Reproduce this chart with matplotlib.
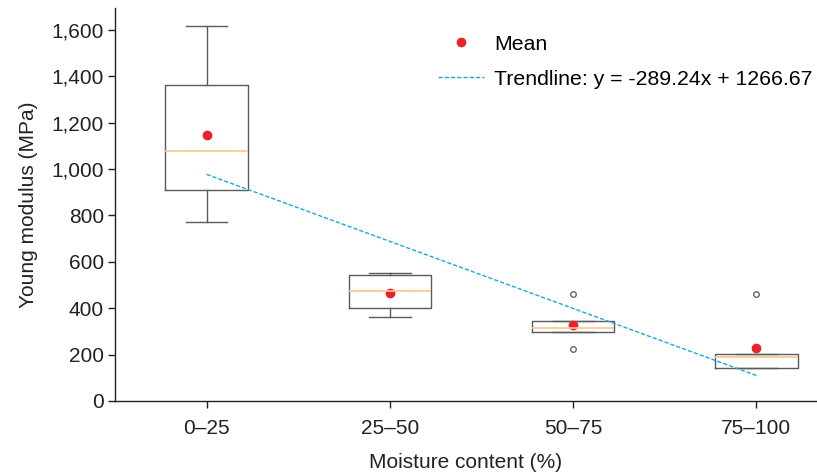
import numpy as np
import matplotlib.pyplot as plt

plt.rcParams['font.family'] = ['Liberation Sans', 'DejaVu Sans']

# Moisture content classes
categories = ["0\u201325", "25\u201350", "50\u201375", "75\u2013100"]

# Box statistics (MPa)
whislo = [772, 364, 298, 141]
q1 = [910, 400, 298, 144]
med = [1078, 473, 316, 191]
q3 = [1363, 542, 345, 201]
whishi = [1617, 550, 345, 201]
means = [1147, 467, 328, 227]
fliers = [[], [], [223, 463], [460]]

# Trendline y = -289.24x + 1266.67
slope = -289.24
intercept = 1266.67

stats = []
for i in range(len(categories)):
    stats.append(dict(label=categories[i], whislo=whislo[i], q1=q1[i], med=med[i],
                      q3=q3[i], whishi=whishi[i], mean=means[i], fliers=fliers[i]))

fig = plt.figure(figsize=(8.17, 4.75), dpi=100)
ax = fig.add_axes([0.1408, 0.156, 0.859, 0.827])

pos = np.arange(1, len(categories) + 1)
ax.bxp(stats, positions=pos, widths=0.45, showmeans=False,
       boxprops=dict(color="#5a5a5a", linewidth=1),
       whiskerprops=dict(color="#5a5a5a", linewidth=1),
       capprops=dict(color="#5a5a5a", linewidth=1),
       medianprops=dict(color="#ffc48a", linewidth=1.2),
       flierprops=dict(marker="o", markersize=4, markerfacecolor="none",
                       markeredgecolor="#666666", markeredgewidth=1))

ax.plot(pos, means, "o", color="#e8232a", markersize=6, linestyle="none", label="Mean")
ax.plot(pos, slope * pos + intercept, "--", color="#1aa7e0", linewidth=1,
        dashes=(3, 1.5), label="Trendline: y = -289.24x + 1266.67")

ax.set_xlim(0.5, 4.33)
ax.set_ylim(0, 1695)
ax.set_yticks(np.arange(0, 1601, 200))
ax.yaxis.set_major_formatter(plt.FuncFormatter(lambda v, p: f"{int(v):,}"))
ax.set_xticks(pos)
ax.set_xticklabels(categories)

for s in ["top", "right"]:
    ax.spines[s].set_visible(False)
for s in ["left", "bottom"]:
    ax.spines[s].set_color("#222222")
    ax.spines[s].set_linewidth(1)
ax.tick_params(labelsize=15, colors="#222222", length=5, width=1, pad=8)
ax.tick_params(axis="y", pad=3)

ax.set_xlabel("Moisture content (%)", fontsize=15, color="#222222", labelpad=11)
ax.set_ylabel("Young modulus (MPa)", fontsize=15, color="#222222", labelpad=10)

ax.legend(loc="upper right", frameon=False, fontsize=15.3, bbox_to_anchor=(1.012, 0.965),
          handlelength=2.2, handletextpad=0.45, labelspacing=0.75, borderaxespad=0.2)

fig.savefig("out.png", dpi=100)
